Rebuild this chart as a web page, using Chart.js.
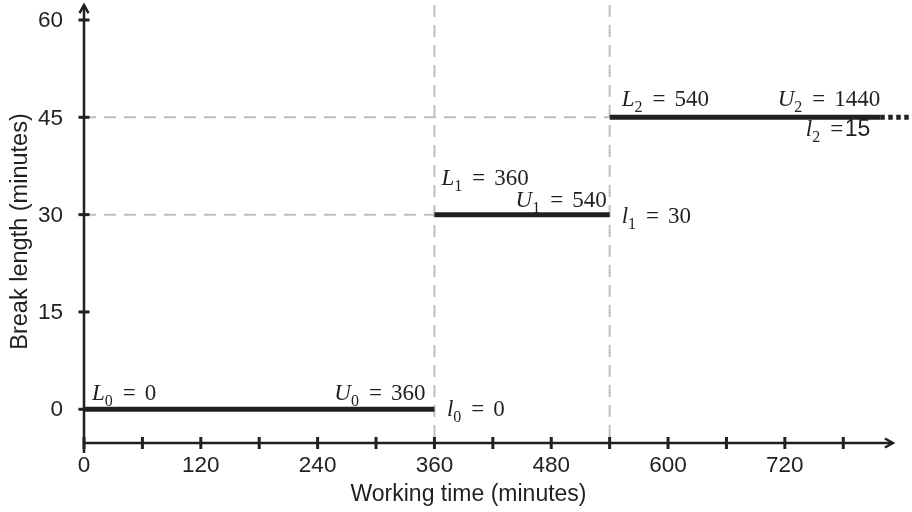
<!DOCTYPE html>
<html>
<head>
<meta charset="utf-8">
<script src="https://cdn.jsdelivr.net/npm/chart.js"></script>
<style>
  html, body { margin: 0; padding: 0; background: #fff; }
  #wrap { width: 912px; height: 512px; }
</style>
</head>
<body>
<div id="wrap"><canvas id="chart" width="912" height="512"></canvas></div>
<script>
// steps of the break rule: working time (min) -> break length (min)
const stepStart = [0, 360, 540];
const stepEnd = [360, 540, 818];
const stepLevel = [0, 30, 45];
const tailEnd = 850; // dotted run-on of the last step

// what the annotations say
const lowerText = ['0', '360', '540'];
const upperText = ['360', '540', '1440'];
const breakText = ['0', '30', '15'];

const xTicks = [0, 60, 120, 180, 240, 300, 360, 420, 480, 540, 600, 660, 720, 780];
const xLabels = [0, 120, 240, 360, 480, 600, 720];
const yTicks = [0, 15, 30, 45, 60];

const X_MAX = 790, X_ARROW = 831;
const Y_MIN = -5.2, Y_MAX = 60, Y_ARROW = 62.3;

const INK = '#231f20';
const GUIDE = '#bfbfbf';
const SANS = '"Liberation Sans", Arial, sans-serif';
const SERIF = '"Liberation Serif", "Times New Roman", serif';

const lineStyle = { showLine: true, pointRadius: 0, fill: false, clip: false, tension: 0, borderCapStyle: 'butt' };

const datasets = [];
stepLevel.forEach((lvl, i) => {
  datasets.push({ ...lineStyle, data: [{ x: stepStart[i], y: lvl }, { x: stepEnd[i], y: lvl }],
    borderColor: INK, borderWidth: 5, order: 0 });
});
datasets.push({ ...lineStyle, data: [{ x: stepEnd[2], y: stepLevel[2] }, { x: tailEnd, y: stepLevel[2] }],
  borderColor: INK, borderWidth: 5, borderDash: [4.5, 3.5], order: 0 });
// gray guides at each step change
[1, 2].forEach((i) => {
  datasets.push({ ...lineStyle, data: [{ x: 0, y: stepLevel[i] }, { x: stepStart[i], y: stepLevel[i] }],
    borderColor: GUIDE, borderWidth: 2, borderDash: [12, 8], order: 2 });
  datasets.push({ ...lineStyle, data: [{ x: stepStart[i], y: Y_ARROW }, { x: stepStart[i], y: Y_MIN }],
    borderColor: GUIDE, borderWidth: 2, borderDash: [12, 8], order: 2 });
});

function seg(ctx, x1, y1, x2, y2) {
  ctx.beginPath();
  ctx.moveTo(x1, y1);
  ctx.lineTo(x2, y2);
  ctx.stroke();
}

// axes with arrow heads and ticks that cross the line
const arrowAxes = {
  id: 'arrowAxes',
  afterDatasetsDraw(chart) {
    const { ctx, scales: { x, y } } = chart;
    const x0 = x.getPixelForValue(0);
    const y0 = y.getPixelForValue(Y_MIN);
    const xEnd = x.getPixelForValue(X_ARROW);
    const yEnd = y.getPixelForValue(Y_ARROW);
    ctx.save();
    ctx.strokeStyle = INK;
    ctx.lineWidth = 2.5;
    ctx.lineCap = 'butt';
    seg(ctx, x0, y0 + 10, x0, yEnd);
    seg(ctx, x0, y0, xEnd, y0);
    ctx.lineJoin = 'miter';
    ctx.beginPath();
    ctx.moveTo(x0 - 4.5, yEnd + 8); ctx.lineTo(x0, yEnd); ctx.lineTo(x0 + 4.5, yEnd + 8);
    ctx.stroke();
    ctx.beginPath();
    ctx.moveTo(xEnd - 8, y0 - 4.5); ctx.lineTo(xEnd, y0); ctx.lineTo(xEnd - 8, y0 + 4.5);
    ctx.stroke();
    ctx.lineWidth = 3;
    xTicks.forEach((v) => { const px = x.getPixelForValue(v); seg(ctx, px, y0 - 6, px, y0 + 6); });
    yTicks.forEach((v) => { const py = y.getPixelForValue(v); seg(ctx, x0 - 5.5, py, x0 + 5.5, py); });
    ctx.restore();
  },
};

// "L_i = value" style labels
function drawMath(ctx, sym, sub, value, px, py, align, tight) {
  const fSym = `italic 23px ${SERIF}`;
  const fSub = `16px ${SERIF}`;
  const fMain = `23px ${SERIF}`;
  const fVal = tight ? `23px ${SANS}` : fMain;
  const gap1 = 10, gap2 = tight ? 1.5 : 9;
  ctx.font = fSym; const wSym = ctx.measureText(sym).width;
  ctx.font = fSub; const wSub = ctx.measureText(sub).width;
  ctx.font = fMain; const wEq = ctx.measureText('=').width;
  ctx.font = fVal; const wVal = ctx.measureText(value).width;
  const total = wSym + wSub + gap1 + wEq + gap2 + wVal;
  let cx = align === 'right' ? px - total : px;
  ctx.textAlign = 'left';
  ctx.textBaseline = 'alphabetic';
  ctx.font = fSym; ctx.fillText(sym, cx, py); cx += wSym;
  ctx.font = fSub; ctx.fillText(sub, cx, py + 6); cx += wSub + gap1;
  ctx.font = fMain; ctx.fillText('=', cx, py); cx += wEq + gap2;
  ctx.font = fVal; ctx.fillText(value, cx, py);
}

const labelOffsets = {
  L: [[8, -9], [7, -30], [12, -11]],
  U: [[-9, -9], [-3, -8], [0, -11]],
  l: [[12.5, 6.5], [12, 8], [-10, 19]],
};

const stepLabels = {
  id: 'stepLabels',
  afterDraw(chart) {
    const { ctx, scales: { x, y } } = chart;
    ctx.save();
    ctx.fillStyle = INK;
    stepLevel.forEach((lvl, i) => {
      const py = y.getPixelForValue(lvl);
      const xs = x.getPixelForValue(stepStart[i]);
      const xe = x.getPixelForValue(stepEnd[i]);
      const [lx, ly] = labelOffsets.L[i];
      drawMath(ctx, 'L', String(i), lowerText[i], xs + lx, py + ly, 'left');
      const [ux, uy] = labelOffsets.U[i];
      drawMath(ctx, 'U', String(i), upperText[i], xe + ux, py + uy, 'right');
      const [bx, by] = labelOffsets.l[i];
      const last = i === stepLevel.length - 1;
      drawMath(ctx, 'l', String(i), breakText[i], xe + bx, py + by, last ? 'right' : 'left', last);
    });
    ctx.restore();
  },
};

new Chart(document.getElementById('chart'), {
  type: 'scatter',
  data: { datasets },
  options: {
    responsive: false,
    animation: false,
    devicePixelRatio: 1,
    events: [],
    layout: { padding: { left: 0, top: 20, right: 59, bottom: 0 } },
    plugins: { legend: { display: false }, tooltip: { enabled: false } },
    scales: {
      x: {
        type: 'linear',
        min: 0,
        max: X_MAX,
        afterFit(s) { s.height = 69; s.paddingLeft = 0; s.paddingRight = 0; },
        afterBuildTicks(s) { s.ticks = xTicks.map((v) => ({ value: v })); },
        grid: { display: false, drawTicks: false },
        border: { display: false },
        ticks: {
          autoSkip: false,
          maxRotation: 0,
          padding: 9,
          color: INK,
          font: { family: SANS, size: 22.5 },
          callback: (v) => (xLabels.includes(v) ? String(v) : ''),
        },
        title: {
          display: true,
          text: 'Working time (minutes)',
          color: INK,
          font: { family: SANS, size: 23 },
          padding: { top: 0, bottom: 4 },
        },
      },
      y: {
        type: 'linear',
        min: Y_MIN,
        max: Y_MAX,
        afterFit(s) { s.width = 84; s.paddingTop = 0; s.paddingBottom = 0; },
        afterBuildTicks(s) { s.ticks = yTicks.map((v) => ({ value: v })); },
        grid: { display: false, drawTicks: false },
        border: { display: false },
        ticks: {
          padding: 21,
          labelOffset: 1,
          color: INK,
          font: { family: SANS, size: 22.5 },
        },
        title: {
          display: true,
          text: 'Break length (minutes)',
          color: INK,
          font: { family: SANS, size: 23.5 },
          padding: { top: 6, bottom: 0 },
        },
      },
    },
  },
  plugins: [arrowAxes, stepLabels],
});
</script>
</body>
</html>
